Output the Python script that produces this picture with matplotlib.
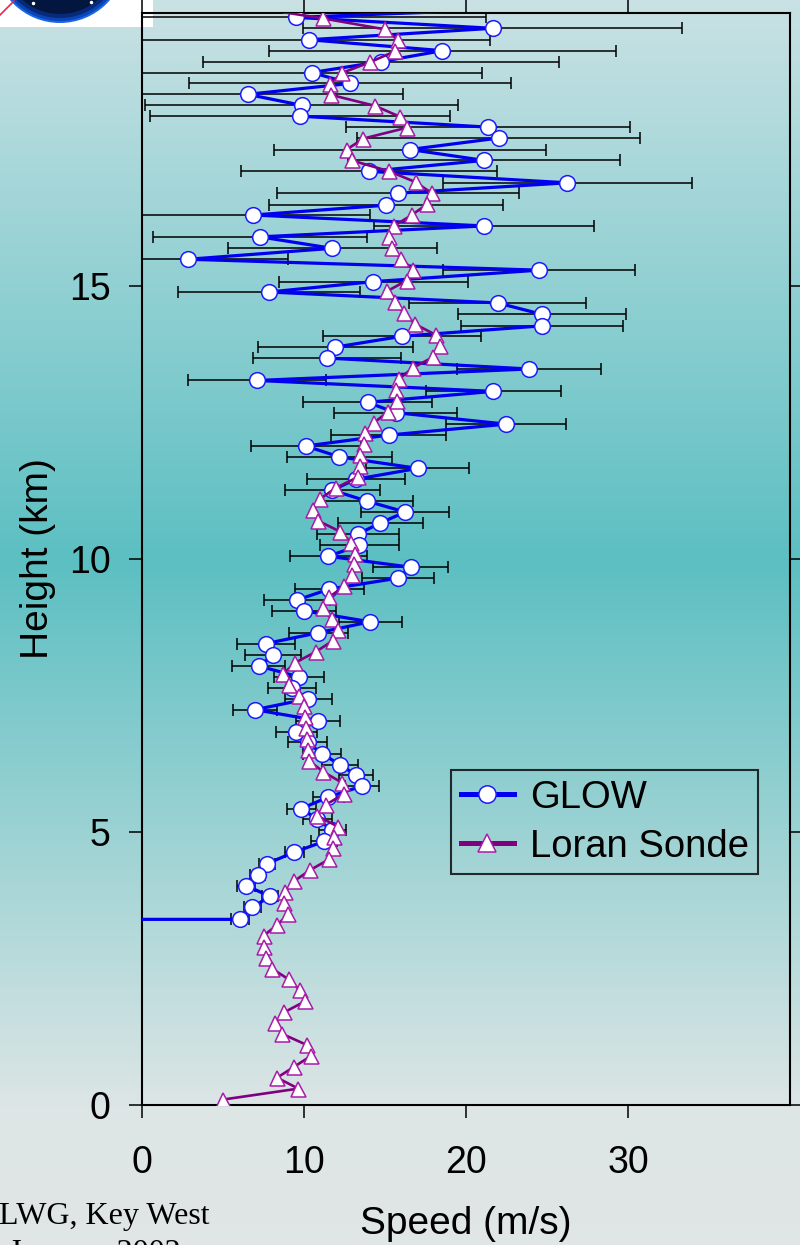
import numpy as np
import matplotlib
matplotlib.use("Agg")
import matplotlib.pyplot as plt
from matplotlib.patches import Rectangle, Circle

plt.rcParams['font.family'] = ['Liberation Sans', 'DejaVu Sans']

# ---------------- data ----------------
# GLOW lidar wind speed profile (km, m/s) with horizontal error bars
glow_height = [20.21,
               19.92, 19.72, 19.51, 19.31, 19.11, 18.91, 18.71, 18.51, 18.31, 18.11,
               17.91, 17.71, 17.50, 17.30, 17.10, 16.89, 16.70, 16.48, 16.30, 16.10,
               15.90, 15.69, 15.49, 15.29, 15.08, 14.89, 14.69, 14.48, 14.27, 14.08,
               13.88, 13.68, 13.48, 13.27, 13.07, 12.87, 12.68, 12.47, 12.27, 12.07,
               11.87, 11.66, 11.46, 11.26, 11.06, 10.86, 10.66, 10.46, 10.25, 10.05,
               9.85, 9.65, 9.45, 9.25, 9.05, 8.85, 8.65, 8.45, 8.24, 8.04,
               7.84, 7.64, 7.44, 7.24, 7.04, 6.84, 6.64, 6.43, 6.23, 6.04,
               5.84, 5.64, 5.43, 5.23, 5.03, 4.83, 4.63, 4.42, 4.22, 4.02,
               3.82, 3.62, 3.40,
               3.40]
glow_speed = [34.9,
              9.51, 21.64, 10.31, 18.54, 14.75, 10.50, 12.84, 6.52, 9.85, 9.76,
              21.35, 22.03, 16.54, 21.11, 14.01, 26.25, 15.80, 15.06, 6.88, 21.13,
              7.29, 11.73, 2.87, 24.49, 14.28, 7.85, 21.95, 24.70, 24.68, 16.06,
              11.92, 11.42, 23.90, 7.11, 21.68, 13.92, 15.66, 22.48, 15.24, 10.11,
              12.18, 17.02, 13.19, 11.75, 13.89, 16.25, 14.71, 13.35, 13.42, 11.50,
              16.58, 15.82, 11.57, 9.58, 10.02, 14.08, 10.89, 7.64, 8.11, 7.21,
              9.70, 9.25, 10.27, 6.97, 10.88, 9.53, 10.23, 11.13, 12.23, 13.23,
              13.58, 11.50, 9.84, 10.83, 11.75, 11.26, 9.40, 7.71, 7.13, 6.43,
              7.89, 6.82, 6.06,
              -9.99]
glow_err = [11.8,
            11.75, 11.68, 11.2, 10.72, 10.96, 10.5, 9.92, 9.59, 9.65, 9.28,
            8.75, 8.73, 8.4, 8.38, 7.9, 7.68, 7.48, 7.22, 7.21, 6.8,
            6.61, 6.45, 6.13, 5.93, 5.85, 5.61, 5.47, 5.17, 5.01, 4.88,
            4.79, 4.55, 4.44, 4.25, 4.18, 3.97, 3.81, 3.69, 3.55, 3.39,
            3.25, 3.18, 3.03, 2.94, 2.85, 2.72, 2.61, 2.54, 2.45, 2.37,
            2.29, 2.22, 2.14, 2.03, 1.97, 1.95, 1.84, 1.78, 1.73, 1.63,
            1.56, 1.49, 1.46, 1.37, 1.36, 1.26, 1.22, 1.17, 1.13, 1.05,
            1.03, 0.96, 0.88, 0.9, 0.85, 0.8, 0.6, 0.5, 0.45, 0.55,
            0.5, 0.5, 0.54,
            0.0]

# Loran radiosonde wind speed profile (km, m/s)
loran_height = [20.2,
                19.9, 19.7, 19.5, 19.3, 19.1, 18.9, 18.7, 18.5, 18.3, 18.1,
                17.9, 17.7, 17.5, 17.3, 17.1, 16.9, 16.7, 16.5, 16.3, 16.1,
                15.9, 15.7, 15.5, 15.3, 15.1, 14.9, 14.7, 14.5, 14.3, 14.1,
                13.9, 13.7, 13.5, 13.3, 13.1, 12.9, 12.7, 12.5, 12.3, 12.1,
                11.9, 11.7, 11.5, 11.3, 11.1, 10.9, 10.7, 10.5, 10.3, 10.1,
                9.9, 9.7, 9.5, 9.3, 9.1, 8.9, 8.7, 8.5, 8.3, 8.1,
                7.9, 7.7, 7.5, 7.3, 7.1, 6.9, 6.7, 6.5, 6.3, 6.1,
                5.9, 5.7, 5.5, 5.3, 5.1, 4.9, 4.7, 4.5, 4.3, 4.1,
                3.9, 3.7, 3.5, 3.3, 3.1, 2.9, 2.7, 2.5, 2.3, 2.1,
                1.9, 1.7, 1.5, 1.3, 1.1, 0.9, 0.7, 0.5, 0.3, 0.1]
loran_speed = [4.7,
               11.20, 15.00, 15.82, 15.62, 14.08, 12.33, 11.61, 11.67, 14.38, 15.92,
               16.36, 13.66, 12.64, 12.95, 15.27, 16.91, 17.88, 17.61, 16.65, 15.56,
               15.27, 15.45, 15.97, 16.74, 16.34, 15.10, 15.64, 16.17, 16.87, 18.16,
               18.41, 17.98, 16.71, 15.88, 15.66, 15.74, 15.20, 14.34, 13.75, 13.69,
               13.44, 13.48, 13.32, 11.96, 10.99, 10.56, 10.87, 12.24, 12.92, 13.13,
               13.11, 12.98, 12.49, 11.53, 11.16, 11.71, 12.07, 11.76, 10.73, 9.45,
               8.73, 9.08, 9.72, 10.02, 10.07, 10.11, 10.17, 10.23, 10.33, 11.20,
               12.37, 12.47, 11.36, 10.81, 12.08, 11.87, 11.78, 11.55, 10.36, 9.39,
               8.83, 8.77, 9.04, 8.36, 7.50, 7.50, 7.64, 8.01, 9.06, 9.76,
               10.07, 8.79, 8.22, 8.67, 10.17, 10.44, 9.39, 8.34, 9.65, 5.01]

x_ticks = [0, 10, 20, 30]
y_ticks = [0, 5, 10, 15]

# ---------------- figure ----------------
W, H = 800, 1245
fig = plt.figure(figsize=(W / 100, H / 100), dpi=100)

# slide background: vertical gradient plus the corner logo
bg = fig.add_axes([0, 0, 1, 1], zorder=-10)
bg.axis('off')
rows = np.arange(H)
stop_y = [0, 560, 1110, 1245]
stop_c = np.array([[0.79, 0.885, 0.895],
                   [0.36, 0.75, 0.76],
                   [0.87, 0.90, 0.90],
                   [0.88, 0.90, 0.90]])
grad = np.stack([np.interp(rows, stop_y, stop_c[:, k]) for k in range(3)], axis=1)
bg.imshow(np.repeat(grad[:, None, :], 2, axis=1), extent=[0, W, H, 0],
          aspect='auto', interpolation='bilinear')
bg.add_patch(Rectangle((0, 0), 153, 27, facecolor='white', edgecolor='none'))
for r, c in [(66, '#1a66e8'), (64, '#0b44b8'), (61, '#062a78'), (57, '#031640')]:
    bg.add_patch(Circle((60, -43), r, facecolor=c, edgecolor='none'))
bg.plot([33, 91], [3, 2], 'o', color='white', ms=1.5)
bg.plot([0, 14], [15, 1], color='#e8284a', lw=1.2)
bg.set_xlim(0, W)
bg.set_ylim(H, 0)

# main plot
ax = fig.add_axes([142 / W, 1 - 1105 / H, 648 / W, 1092 / H])
ax.set_facecolor('none')

ax.errorbar(glow_speed, glow_height, xerr=glow_err, fmt='none', ecolor='black',
            elinewidth=1.1, capsize=4.3, capthick=1.1, zorder=2)
ax.plot(glow_speed, glow_height, '-o', color='#0000ee', lw=2.3,
        mfc='white', mec='#1a1aff', ms=11.3, mew=1.1, zorder=3, label='GLOW')
ax.plot(loran_speed, loran_height, '-^', color='#800080', lw=1.9,
        mfc='white', mec='#a81ca8', ms=10.8, mew=1.1, zorder=4, label='Loran Sonde')

ax.set_xlim(0, 40)
ax.set_ylim(0, 20)
ax.set_xticks(x_ticks)
ax.set_yticks(y_ticks)
ax.tick_params(direction='out', length=9.5, width=1.1, top=True, right=True,
               labelsize=27, colors='black')
ax.tick_params(axis='x', pad=19)
ax.tick_params(axis='y', pad=13)
for s in ax.spines.values():
    s.set_linewidth(1.5)

ax.set_xlabel('Speed (m/s)', fontsize=28, labelpad=18)
ax.set_ylabel('Height (km)', fontsize=28, labelpad=9)

leg = ax.legend(loc='upper right', bbox_to_anchor=(0.951, 0.3068), fontsize=27.5,
                frameon=True, fancybox=False, borderpad=0.25, borderaxespad=0,
                handlelength=1.41, handletextpad=0.4, labelspacing=0.34,
                numpoints=1)
leg.get_frame().set_facecolor('none')
leg.get_frame().set_edgecolor('black')
leg.get_frame().set_linewidth(1.5)
for h in leg.get_lines():
    h.set_linewidth(3.6)
    h.set_markersize(12.5)

# conference footer
fig.text(-1 / W, 1 - 1224 / H, 'LWG, Key West', family=['Liberation Serif', 'DejaVu Serif'],
         fontsize=23, ha='left', va='baseline')
fig.text(9 / W, 1 - 1261 / H, 'January 2002', family=['Liberation Serif', 'DejaVu Serif'],
         fontsize=23, ha='left', va='baseline')

fig.savefig('out.png', dpi=100)
